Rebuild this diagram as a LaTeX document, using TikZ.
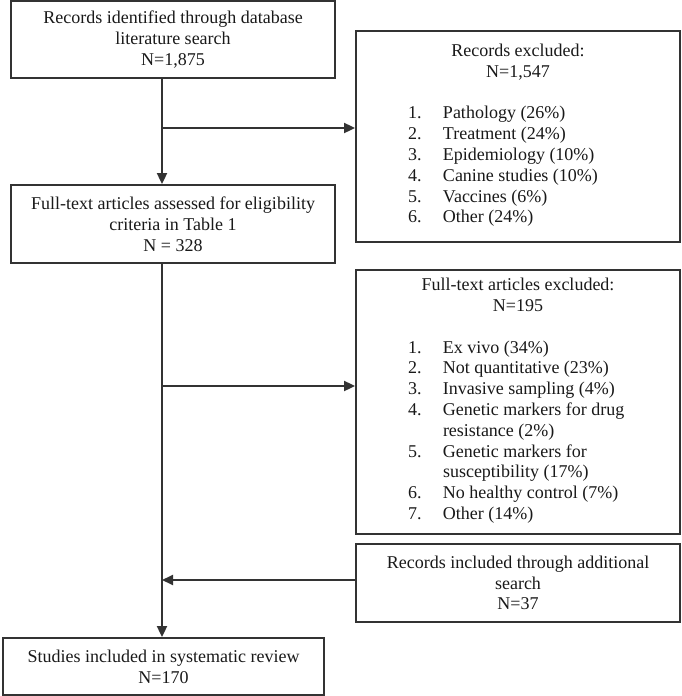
\documentclass[tikz,border=0pt]{standalone}
\usepackage{fontspec}
\setmainfont{Liberation Serif}
\usepackage{tikz}
\usetikzlibrary{arrows.meta,positioning,calc}

\begin{document}
\begin{tikzpicture}[->,>={Triangle[length=11pt,width=10pt]},x=1pt,y=-1pt,
  line width=1.8pt,draw=black!80,
  flow box/.style={-,draw=black!80,rectangle,minimum width=324pt,align=center,
    text=black!90,font=\fontsize{18}{20.8}\selectfont},
  list box/.style={flow box,minimum height=#1}]
    \useasboundingbox (0,0) rectangle (681,696);
    \node[flow box,minimum height=77pt](ident) at (173,39.5)
      {Records identified through database\\literature search\\N=1,875};
    \node[list box=211pt](excl1) at (518,136.5)
      {Records excluded:\\N=1,547\\[20.8pt]
       \begin{tabular}[t]{@{}p{35pt}@{}p{185pt}@{}}
       1. & Pathology (26\%)\\
       2. & Treatment (24\%)\\
       3. & Epidemiology (10\%)\\
       4. & Canine studies (10\%)\\
       5. & Vaccines (6\%)\\
       6. & Other (24\%)
       \end{tabular}};
    \node[flow box,minimum height=78pt](full) at (173,224)
      {Full-text articles assessed for eligibility\\criteria in Table 1\\N = 328};
    \node[list box=264pt](excl2) at (518,402)
      {Full-text articles excluded:\\N=195\\[20.8pt]
       \begin{tabular}[t]{@{}p{35pt}@{}p{185pt}@{}}
       1. & Ex vivo (34\%)\\
       2. & Not quantitative (23\%)\\
       3. & Invasive sampling (4\%)\\
       4. & Genetic markers for drug\\
          & resistance (2\%)\\
       5. & Genetic markers for\\
          & susceptibility (17\%)\\
       6. & No healthy control (7\%)\\
       7. & Other (14\%)
       \end{tabular}};
    \node[flow box,minimum height=78pt](addl) at (518,583)
      {Records included through additional\\search\\N=37};
    \node[flow box,minimum width=321pt,minimum height=57pt](incl) at (163.5,666.5)
      {Studies included in systematic review\\N=170};
    % branch points on the main line
    \coordinate (split1) at (162,128);
    \coordinate (split2) at (162,386);
    \coordinate (merge) at (162,580);
    \path (ident.south -| split1) edge (full.north -| split1)
          (split1) edge (split1 -| excl1.west)
          (split2) edge (split2 -| excl2.west)
          (merge -| addl.west) edge (merge)
    ;
    \path (full.south -| split1) edge (incl.north -| split1)
    ;
\end{tikzpicture}
\end{document}
